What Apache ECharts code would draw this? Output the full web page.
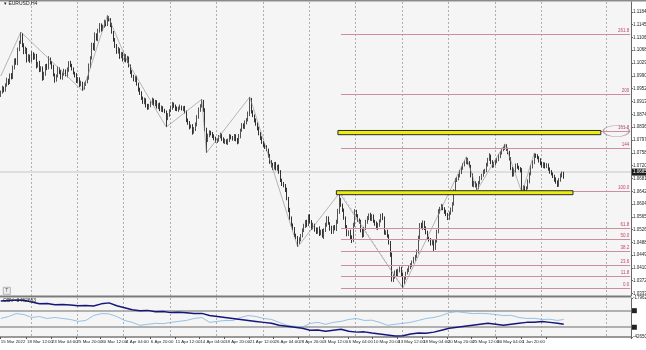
<!DOCTYPE html>
<html><head><meta charset="utf-8">
<script src="https://cdn.jsdelivr.net/npm/echarts@6/dist/echarts.min.js"></script>
<style>html,body{margin:0;padding:0;background:#ffffff}#c{width:646px;height:350px}</style>
</head><body><div id="c"></div>
<script>
// ---------- DATA ----------
const symbolTitle = '▾ EURUSD,H4';
const indicatorTitle = 'OBV -3462663';
const firstBarUTC = [2022, 2, 15, 16];   // 15 Mar 2022 16:00, H4 bars
const futureBars = 43;                    // empty bars to the right (chart shift)
const firstOpen = 1.0935;
const closes = [
1.0942,1.0955,1.0947,1.0963,1.0978,1.0970,1.0993,1.0986,1.1014,1.1038,
1.1029,1.1069,1.1092,1.1114,1.1084,1.1062,1.1071,1.1039,1.1050,1.1036,
1.1058,1.1045,1.1052,1.1020,1.1030,1.1008,1.1015,1.0984,1.0996,1.1021,
1.1014,1.1042,1.1030,1.1018,1.0995,1.0978,1.0990,1.1012,1.1002,1.0985,
1.0996,1.1006,1.0993,1.1008,1.1030,1.1023,1.1011,1.1000,1.0993,1.0975,
1.0982,1.0963,1.0970,1.0954,1.0966,1.0972,1.0984,1.1020,1.1045,1.1084,
1.1072,1.1114,1.1102,1.1126,1.1144,1.1130,1.1141,1.1153,1.1146,1.1165,
1.1160,1.1144,1.1122,1.1099,1.1082,1.1063,1.1070,1.1048,1.1057,1.1039,
1.1051,1.1036,1.1045,1.1020,1.1002,1.0990,1.0978,1.0985,1.0966,1.0950,
1.0938,1.0924,1.0910,1.0918,1.0902,1.0894,1.0900,1.0909,1.0918,1.0905,
1.0912,1.0897,1.0904,1.0888,1.0896,1.0886,1.0882,1.0863,1.0872,1.0885,
1.0894,1.0906,1.0899,1.0892,1.0888,1.0893,1.0897,1.0890,1.0894,1.0882,
1.0857,1.0848,1.0836,1.0840,1.0821,1.0830,1.0842,1.0866,1.0888,1.0900,
1.0912,1.0888,1.0830,1.0797,1.0810,1.0821,1.0815,1.0809,1.0803,1.0794,
1.0797,1.0806,1.0812,1.0800,1.0792,1.0795,1.0788,1.0796,1.0808,1.0803,
1.0800,1.0810,1.0797,1.0791,1.0808,1.0826,1.0842,1.0836,1.0849,1.0857,
1.0875,1.0918,1.0882,1.0870,1.0856,1.0845,1.0833,1.0815,1.0803,1.0790,
1.0782,1.0775,1.0767,1.0750,1.0730,1.0721,1.0712,1.0725,1.0710,1.0718,
1.0700,1.0676,1.0665,1.0658,1.0646,1.0620,1.0586,1.0562,1.0540,1.0528,
1.0510,1.0502,1.0489,1.0496,1.0507,1.0525,1.0536,1.0549,1.0541,1.0567,
1.0550,1.0531,1.0540,1.0527,1.0519,1.0528,1.0515,1.0522,1.0507,1.0525,
1.0540,1.0561,1.0545,1.0530,1.0519,1.0534,1.0528,1.0549,1.0580,1.0616,
1.0600,1.0586,1.0560,1.0535,1.0513,1.0520,1.0504,1.0495,1.0540,1.0580,
1.0568,1.0556,1.0549,1.0525,1.0510,1.0530,1.0548,1.0561,1.0570,1.0558,
1.0567,1.0552,1.0545,1.0531,1.0540,1.0552,1.0568,1.0561,1.0516,1.0520,
1.0507,1.0488,1.0450,1.0374,1.0385,1.0398,1.0390,1.0402,1.0410,1.0392,
1.0368,1.0380,1.0395,1.0404,1.0412,1.0420,1.0429,1.0438,1.0445,1.0459,
1.0500,1.0540,1.0532,1.0549,1.0530,1.0518,1.0501,1.0495,1.0485,1.0490,
1.0471,1.0492,1.0519,1.0580,1.0590,1.0598,1.0589,1.0580,1.0572,1.0561,
1.0575,1.0586,1.0604,1.0640,1.0676,1.0680,1.0688,1.0700,1.0712,1.0721,
1.0730,1.0737,1.0728,1.0718,1.0690,1.0661,1.0668,1.0660,1.0652,1.0668,
1.0682,1.0690,1.0700,1.0706,1.0722,1.0738,1.0749,1.0730,1.0718,1.0726,
1.0732,1.0737,1.0748,1.0758,1.0767,1.0772,1.0779,1.0770,1.0758,1.0740,
1.0712,1.0691,1.0705,1.0721,1.0715,1.0710,1.0706,1.0646,1.0655,1.0648,
1.0652,1.0672,1.0695,1.0715,1.0730,1.0752,1.0748,1.0743,1.0735,1.0726,
1.0718,1.0725,1.0716,1.0721,1.0710,1.0700,1.0694,1.0688,1.0678,1.0670,
1.0661,1.0675,1.0690,1.0697,1.0685];
// upper / lower wick lengths in pips
const upWick = [
4,6,3,5,7,4,5,6,8,5, 6,7,5,9,6,5,8,4,6,5, 7,4,6,5,3,6,5,4,7,5, 6,8,4,5,6,3,5,7,4,6,
5,6,4,8,5,6,4,5,3,6, 5,4,6,3,5,4,6,8,5,7, 6,8,5,7,6,5,4,7,5,9, 6,5,7,4,6,5,8,4,6,5,
7,5,6,4,5,6,4,5,6,4, 5,6,4,7,5,4,6,5,7,4, 6,5,4,6,5,3,5,4,6,5, 7,6,4,5,6,5,7,4,5,6,
4,5,6,4,5,6,8,6,7,5, 8,6,5,4,6,5,4,6,5,4, 5,6,7,4,5,6,4,5,7,5, 6,5,4,6,7,5,6,5,7,6,
8,9,6,5,4,6,5,4,6,5, 4,5,6,4,5,6,7,5,6,4, 5,6,4,5,6,7,5,6,4,5, 6,4,5,7,6,5,8,6,7,5,
6,5,7,4,6,5,8,4,6,5, 7,6,5,4,8,5,6,7,9,21, 6,5,4,6,5,4,6,5,7,8, 6,5,4,7,6,5,8,6,5,7,
6,5,4,6,7,5,6,8,5,4, 6,5,4,7,6,5,8,6,5,4, 5,6,4,5,6,5,4,6,5,7, 8,6,7,5,4,6,5,4,6,5,
4,6,7,8,5,6,4,5,6,5, 6,7,5,8,6,5,6,7,5,6, 5,9,6,5,4,6,5,4,6,5, 6,5,7,4,6,5,8,4,6,5,
5,6,7,5,6,4,6,5,4,6, 5,4,6,5,6,4,5,6,5,4, 5,6,4,7,6,5,4,6,5,7, 6,5,4,6,5,4,6,5,4,6,
5,7,6,5,4];
const loWick = [
8,5,6,4,5,7,4,6,5,4, 5,6,4,5,7,6,5,8,5,6, 4,6,5,7,4,6,5,8,6,5, 6,4,5,7,6,8,5,4,6,5,
6,5,4,7,5,6,4,5,7,6, 5,6,4,9,5,6,4,5,6,5, 4,6,5,7,5,6,4,5,6,5, 5,6,4,5,7,6,5,6,4,5,
6,5,7,4,6,5,4,6,5,7, 5,6,4,5,7,6,5,4,6,5, 6,5,7,4,6,5,4,27,6,5, 4,6,5,7,4,6,5,4,6,5,
6,5,7,4,8,5,6,4,5,6, 5,6,7,39,6,5,4,6,7,5, 6,5,4,6,5,7,4,6,5,4, 5,6,4,7,5,6,4,5,6,5,
4,6,5,4,6,5,7,4,6,5, 6,5,4,6,5,7,6,4,5,6, 5,6,7,4,6,5,7,6,5,4, 6,5,15,6,5,4,6,5,7,4,
5,6,4,7,6,5,8,6,5,9, 6,5,4,7,6,5,4,6,5,6, 5,6,4,5,7,6,8,9,6,5, 4,6,5,7,8,6,5,4,6,5,
6,5,7,4,6,5,4,6,5,6, 5,7,6,5,6,7,5,6,5,8, 18,6,5,4,6,5,7,5,6,4, 5,6,4,7,5,6,4,5,7,6,
9,6,5,4,6,5,4,6,5,6, 5,4,6,5,4,6,5,4,6,5, 4,6,5,4,6,5,7,6,5,4, 5,6,4,5,6,5,4,6,5,4,
6,5,4,6,5,4,5,6,4,5, 6,5,4,6,5,4,7,9,5,6, 5,4,6,5,4,6,5,4,6,5, 4,6,5,4,6,5,4,6,7,5,
6,5,4,6,5];
// zigzag swing points: [bar index, price]
const zigzag = [[0,1.0990],[13,1.1123],[53,1.0945],[69,1.1174],[82,1.1033],[107,1.0836],
  [130,1.0920],[133,1.0758],[161,1.0927],[192,1.0474],[219,1.0637],[260,1.0350],
  [301,1.0746],[308,1.0646],[326,1.0785],[337,1.0637],[345,1.0758]];
// Fibonacci tool
const fibZeroPrice = 1.0350, fibHundredPrice = 1.0643;
const fibHighBar = 219, fibLowBar = 260, fibFromBar = 220;
const fibLevels = [0, 11.8, 23.6, 38.2, 50.0, 61.8, 100.0, 144, 161.8, 200, 261.8];
const fibLabels = ['0.0','11.8','23.6','38.2','50.0','61.8','100.0','144','161.8','200','261.8'];
const circledLevel = 161.8, circleBar = 398;
// yellow rectangles
const zoneFrom = [218, 217], zoneTo = [388, 370];
const zoneTop = [1.08257, 1.06438], zoneBottom = [1.08130, 1.06318];
// price axis
const priceMin = 1.03258, priceMax = 1.12137;
const priceTicks = [1.11840,1.11450,1.11060,1.10680,1.10290,1.09900,1.09520,1.09130,1.08740,
  1.08360,1.07970,1.07580,1.07200,1.06810,1.06420,1.06040,1.05650,1.05260,1.04880,1.04490,
  1.04100,1.03720,1.03330];
// indicator pane (every 5th bar, last point = last bar)
const obvMin = -4265010, obvMax = -1796250;
const obvLevels = [-2598600, -3647800];
const obvMain = [
-1981400,-1962000,-1919700,-1938000,-2043100,-2166600,-2150000,-2228300,-2210000,-2240000,
-2290000,-2275000,-2300000,-2166600,-2104800,-2290000,-2413400,-2536900,-2598600,-2580000,
-2660300,-2645000,-2722000,-2705000,-2730000,-2783800,-2770000,-2907200,-2968900,-3030600,
-3092300,-3154100,-3215800,-3277500,-3339200,-3400900,-3524400,-3586100,-3647800,-3709500,
-3833000,-3815000,-3894700,-3833000,-3771300,-3894700,-3956400,-3940000,-4018100,-4079900,
-4141600,-4203300,-4190000,-4079900,-4018100,-4030000,-3956400,-3833000,-3709500,-3647800,
-3586100,-3524400,-3462700,-3400900,-3462700,-3524400,-3462700,-3400900,-3339200,-3325000,
-3277500,-3339200,-3400900,-3462700];
const obvSignal = [
-3092300,-2968900,-2783800,-2845500,-3030600,-2968900,-3092300,-3030600,-3092300,-3154100,
-3277500,-3215800,-2907200,-2783800,-2800000,-2968900,-3215800,-3339200,-3524400,-3462700,
-3400900,-3420000,-3339200,-3277500,-3215800,-3092300,-3030600,-3339200,-3277500,-3215800,
-3230000,-3030600,-2907200,-2968900,-3092300,-3154100,-3339200,-3524400,-3586100,-3647800,
-3400900,-3339200,-3462700,-3339200,-3277500,-3154100,-3092300,-3215800,-3200000,-3339200,
-3524400,-3462700,-3400900,-3339200,-3215800,-3092300,-3030600,-2907200,-2722000,-2660300,
-2722000,-2783800,-2770000,-2790000,-2845500,-2907200,-2890000,-3030600,-3092300,-3080000,
-3154100,-3140000,-3215800,-3154100];

// ---------- BUILD ----------
const pip = 0.0001;
const M = ['Jan','Feb','Mar','Apr','May','Jun','Jul','Aug','Sep','Oct','Nov','Dec'];
const pad = n => (n < 10 ? '0' : '') + n;
const times = [];
let t = Date.UTC(...firstBarUTC);
while (times.length < closes.length) {
  const d = new Date(t);
  if (d.getUTCDay() !== 0 && d.getUTCDay() !== 6) times.push(d);
  t += 4 * 3600e3;
}
while (times.length < closes.length + futureBars) { times.push(new Date(t)); t += 4 * 3600e3; }
const cats = times.map((d, i) => i === 0
  ? `${d.getUTCDate()} ${M[d.getUTCMonth()]} ${d.getUTCFullYear()}`
  : `${d.getUTCDate()} ${M[d.getUTCMonth()]} ${pad(d.getUTCHours())}:00`);
const lastCat = cats.length - 1;
const isWeekStart = i => times[i] && times[i].getUTCDay() === 1 && times[i].getUTCHours() === 0;
const showLabel = i => i === 0 || (i >= 17 && (i - 17) % 16 === 0 && i < closes.length);

const ohlc = closes.map((c, i) => {
  const o = i ? closes[i - 1] : firstOpen;
  return [o, c, Math.min(o, c) - loWick[i] * pip, Math.max(o, c) + upWick[i] * pip];
});
const fibPrice = lv => fibZeroPrice + (fibHundredPrice - fibZeroPrice) * lv / 100;
const lastClose = closes[closes.length - 1];
const obvBars = obvMain.map((_, k) => Math.min(k * 5, closes.length - 1));

const FONT = 'Liberation Sans';
const gridLine = {show: true, lineStyle: {color: '#9c9c9c', width: 0.8, type: [2, 2]}, interval: isWeekStart};

const chart = echarts.init(document.getElementById('c'), null, {renderer: 'canvas'});
chart.setOption({
  animation: false,
  backgroundColor: '#ffffff',
  textStyle: {fontFamily: FONT},
  title: [
    {text: symbolTitle, left: 4, top: 1, padding: 0, textStyle: {fontSize: 5, fontWeight: 'normal', color: '#222', fontFamily: FONT}},
    {text: indicatorTitle, left: 3, top: 298, padding: 0, textStyle: {fontSize: 5, fontWeight: 'normal', color: '#222', fontFamily: FONT}}
  ],
  grid: [
    {left: 0, top: 2, width: 631, height: 294, show: true, backgroundColor: '#f5f5f5', borderWidth: 0, containLabel: false, outerBoundsMode: 'none'},
    {left: 0, top: 298, width: 631, height: 39, show: true, backgroundColor: '#f5f5f5', borderWidth: 0, containLabel: false, outerBoundsMode: 'none'}
  ],
  xAxis: [
    {type: 'category', gridIndex: 0, data: cats, boundaryGap: true,
     axisLine: {show: false}, axisTick: {show: false}, axisLabel: {show: false}, splitLine: gridLine},
    {type: 'category', gridIndex: 1, data: cats, boundaryGap: true,
     axisLine: {show: true, lineStyle: {color: '#7a7a7a', width: 1.5}},
     axisTick: {show: true, interval: showLabel, length: 2, lineStyle: {color: '#555'}},
     axisLabel: {show: true, interval: showLabel, align: 'left', fontSize: 4.4, color: '#222', margin: 3, fontFamily: FONT,
                 showMinLabel: true, showMaxLabel: false, hideOverlap: false},
     splitLine: gridLine}
  ],
  yAxis: [
    {type: 'value', gridIndex: 0, position: 'right', min: priceMin, max: priceMax, scale: true,
     axisLine: {show: true, lineStyle: {color: '#666', width: 1}},
     axisTick: {show: true, length: 2, customValues: priceTicks, lineStyle: {color: '#666'}},
     axisLabel: {show: true, customValues: priceTicks, formatter: v => v.toFixed(5), fontSize: 4.5, color: '#222', margin: 2, fontFamily: FONT},
     splitLine: {show: false}},
    {type: 'value', gridIndex: 1, position: 'right', min: obvMin, max: obvMax,
     axisLine: {show: true, lineStyle: {color: '#666', width: 1}},
     axisTick: {show: true, length: 2, customValues: [obvMin, obvMax]},
     axisLabel: {show: true, customValues: [obvMin, obvMax], formatter: v => String(Math.round(v)), fontSize: 4.5, color: '#222', margin: 2, fontFamily: FONT},
     splitLine: {show: false}}
  ],
  series: [
    {type: 'candlestick', xAxisIndex: 0, yAxisIndex: 0, data: ohlc, barWidth: 1.3, z: 3,
     itemStyle: {color: '#5a5a5a', color0: '#000000', borderColor: '#2a2a2a', borderColor0: '#000000', borderWidth: 0.8},
     markLine: {silent: true, symbol: ['none', 'none'], z: 1,
       lineStyle: {color: '#dedede', width: 2, type: 'solid'},
       label: {show: true, position: 'end', formatter: lastClose.toFixed(5), backgroundColor: '#1b1b1b', color: '#fff', fontSize: 4.5, padding: [1, 1], distance: 1, fontFamily: FONT},
       data: [{yAxis: lastClose}]}},
    {type: 'line', xAxisIndex: 0, yAxisIndex: 0, data: zigzag, symbol: 'none', z: 4,
     lineStyle: {color: '#8a8a8a', width: 0.6}},
    {type: 'line', xAxisIndex: 0, yAxisIndex: 0, symbol: 'none', z: 4,
     data: [[fibHighBar, fibHundredPrice], [fibLowBar, fibZeroPrice]],
     lineStyle: {color: '#a0a0a0', width: 0.6, type: [2, 2]},
     markLine: {silent: true, symbol: ['none', 'none'], z: 5,
       lineStyle: {color: '#cf8e9f', width: 1, type: 'solid'},
       label: {show: true, position: 'insideEndTop', color: '#c24a6a', fontSize: 4.5, distance: 1, fontFamily: FONT},
       data: fibLevels.map((lv, k) => [
         {coord: [fibFromBar, fibPrice(lv)], label: {formatter: fibLabels[k]}},
         {coord: [lastCat, fibPrice(lv)]}])},
     markArea: {silent: true, z: 6,
       itemStyle: {color: '#ecec10', borderColor: '#2a2a2a', borderWidth: 1},
       data: zoneFrom.map((f, k) => [{coord: [f, zoneTop[k]]}, {coord: [zoneTo[k], zoneBottom[k]]}])}},
    {type: 'scatter', xAxisIndex: 0, yAxisIndex: 0, z: 7, symbol: 'circle', symbolSize: [26, 11],
     data: [[circleBar, fibPrice(circledLevel)]],
     itemStyle: {color: 'rgba(255,255,255,0)', borderColor: '#a88a92', borderWidth: 1}},
    {type: 'line', xAxisIndex: 1, yAxisIndex: 1, symbol: 'none', z: 4,
     data: obvBars.map((b, k) => [b, obvSignal[k]]),
     lineStyle: {color: '#7db4dc', width: 0.8},
     markLine: {silent: true, symbol: ['none', 'none'], z: 2,
       lineStyle: {color: '#9a9a9a', width: 1.6, type: 'solid'},
       label: {show: true, position: 'end', formatter: ' ', backgroundColor: '#222', padding: [1, 2], fontSize: 3, distance: 1},
       data: obvLevels.map(v => ({yAxis: v}))}},
    {type: 'line', xAxisIndex: 1, yAxisIndex: 1, symbol: 'none', z: 5,
     data: obvBars.map((b, k) => [b, obvMain[k]]),
     lineStyle: {color: '#16167a', width: 1.5}}
  ],
  graphic: [
    {type: 'rect', left: 0, top: 0, shape: {width: 646, height: 1.5}, style: {fill: '#8a8a8a'}, silent: true},
    {type: 'rect', left: 0, top: 295.5, shape: {width: 631, height: 2}, style: {fill: '#7a7a7a'}, silent: true},
    {type: 'group', left: 3, top: 287, silent: true, children: [
      {type: 'rect', shape: {width: 7, height: 7}, style: {fill: '#eeeeee', stroke: '#8a8a8a', lineWidth: 0.6}},
      {type: 'text', x: 2, y: 1, style: {text: 'T', fontSize: 5, fill: '#555', fontFamily: FONT}}
    ]}
  ]
});
</script></body></html>
